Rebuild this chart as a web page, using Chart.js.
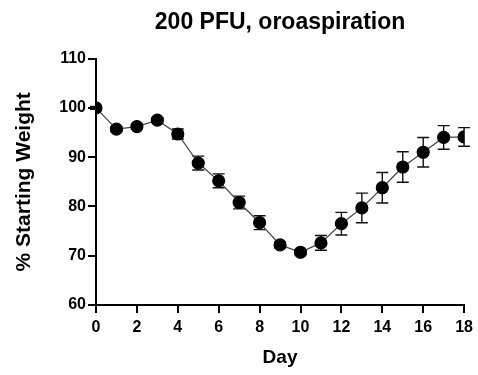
<!DOCTYPE html>
<html>
<head>
<meta charset="utf-8">
<script src="https://cdn.jsdelivr.net/npm/chart.js@4"></script>
<style>
  html, body { margin: 0; padding: 0; background: #fff; }
  #w { width: 478px; height: 375px; }
</style>
</head>
<body>
<div id="w"><canvas id="myChart"></canvas></div>
<script>
// data
var dias = [0, 1, 2, 3, 4, 5, 6, 7, 8, 9, 10, 11, 12, 13, 14, 15, 16, 17, 18]
var pesoMedio = [100, 95.7, 96.2, 97.5, 94.7, 88.8, 85.2, 80.8, 76.7, 72.2, 70.7, 72.6, 76.5, 79.7, 83.8, 88.0, 91.0, 94.0, 94.1]
var pesoError = [0.3, 0.5, 0.5, 0.5, 1.0, 1.4, 1.4, 1.3, 1.4, 0.6, 0.5, 1.5, 2.3, 3.0, 3.1, 3.1, 3.0, 2.4, 1.9]
var yTicks = [60, 70, 80, 90, 100, 110]
var xTicks = [0, 2, 4, 6, 8, 10, 12, 14, 16, 18]

var puntos = []
dias.forEach((d, i) => {
    puntos.push({ x: d, y: pesoMedio[i] })
});

const fuente = "'Liberation Sans', Arial, sans-serif"

// barras de error, dibujadas con las escalas del chart
const errorBars = {
    id: 'errorBars',
    beforeDatasetsDraw(chart) {
        var ctx = chart.ctx
        var xs = chart.scales.x
        var ys = chart.scales.y
        ctx.save()
        ctx.strokeStyle = '#111'
        ctx.lineWidth = 1.4
        dias.forEach((d, i) => {
            var px = xs.getPixelForValue(d)
            var top = ys.getPixelForValue(pesoMedio[i] + pesoError[i])
            var bot = ys.getPixelForValue(pesoMedio[i] - pesoError[i])
            ctx.beginPath()
            ctx.moveTo(px, top); ctx.lineTo(px, bot)
            ctx.moveTo(px - 6, top); ctx.lineTo(px + 6, top)
            ctx.moveTo(px - 6, bot); ctx.lineTo(px + 6, bot)
            ctx.stroke()
        });
        ctx.restore()
    }
}

var ctx = document.getElementById('myChart').getContext('2d')
var myChart = new Chart(ctx, {
    type: 'scatter',
    data: {
        datasets: [{
            data: puntos,
            showLine: true,
            borderColor: '#444',
            borderWidth: 1.2,
            backgroundColor: '#000',
            pointBackgroundColor: '#000',
            pointBorderColor: '#000',
            pointRadius: 6,
            pointHoverRadius: 6
        }]
    },
    options: {
        responsive: true,
        maintainAspectRatio: false,
        animation: false,
        layout: { padding: { left: 0, right: 13, top: 0, bottom: 0 } },
        plugins: {
            legend: { display: false },
            tooltip: { enabled: false },
            title: {
                display: true,
                text: '200 PFU, oroaspiration',
                fullSize: false,
                color: '#000',
                font: { family: fuente, size: 23, weight: 'bold' },
                padding: { top: 9, bottom: 22 }
            }
        },
        scales: {
            x: {
                type: 'linear',
                min: 0,
                max: 18,
                afterBuildTicks: function (scale) {
                    scale.ticks = xTicks.map(v => ({ value: v }))
                },
                afterFit: function (scale) { scale.height = 70 },
                grid: { drawOnChartArea: false, tickLength: 8, color: '#000', lineWidth: 2 },
                border: { color: '#000', width: 2 },
                ticks: { color: '#000', font: { family: fuente, size: 16, weight: 'bold' }, padding: 5, maxRotation: 0 },
                title: { display: true, text: 'Day', color: '#000', font: { family: fuente, size: 19, weight: 'bold' }, padding: { top: 0, bottom: 6 } }
            },
            y: {
                min: 60,
                max: 110,
                afterBuildTicks: function (scale) {
                    scale.ticks = yTicks.map(v => ({ value: v }))
                },
                afterFit: function (scale) { scale.width = 96 },
                grid: { drawOnChartArea: false, tickLength: 8, color: '#000', lineWidth: 2 },
                border: { color: '#000', width: 2 },
                ticks: { color: '#000', font: { family: fuente, size: 16, weight: 'bold' }, padding: 2 },
                title: { display: true, text: '% Starting Weight', color: '#000', font: { family: fuente, size: 21, weight: 'bold' }, padding: { top: 12 } }
            }
        }
    },
    plugins: [errorBars]
});
</script>
</body>
</html>
